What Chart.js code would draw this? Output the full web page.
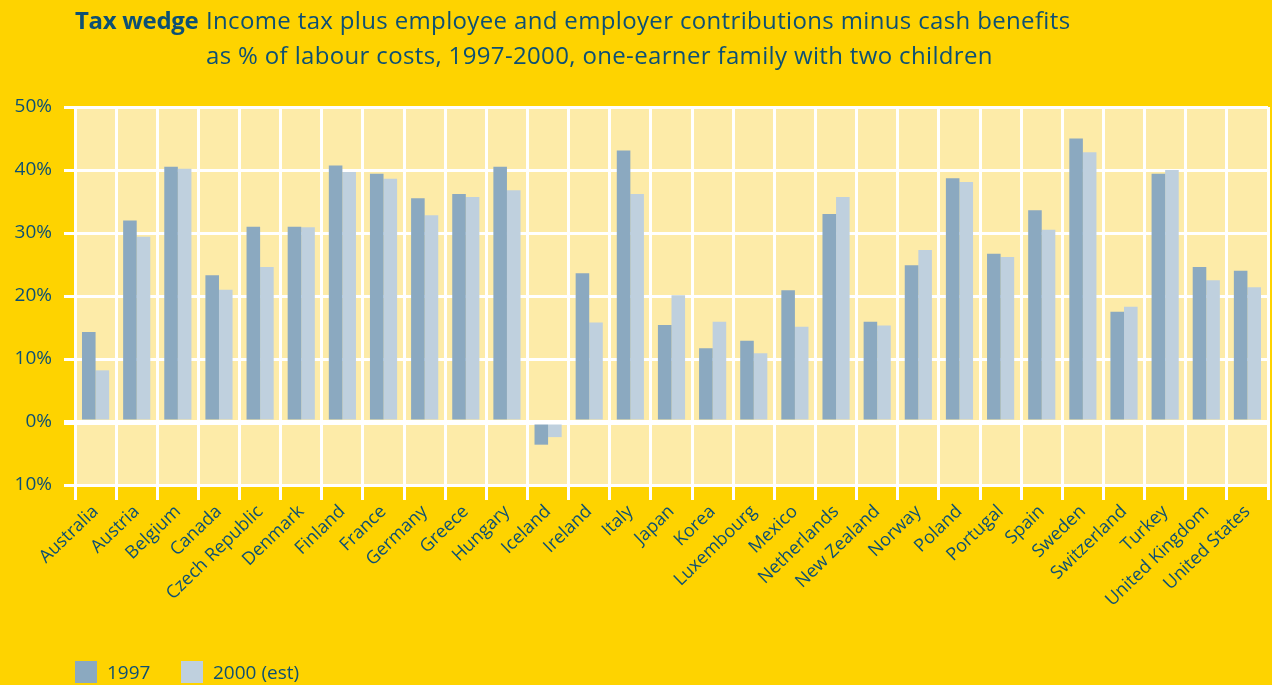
<!DOCTYPE html>
<html>
<head>
<meta charset="utf-8">
<script src="https://cdn.jsdelivr.net/npm/chart.js@4"></script>
<style>
html, body { margin: 0; padding: 0; background: #fed300; width: 1272px; height: 685px; overflow: hidden; font-family: 'Open Sans', sans-serif; color: #0d5074; }
#wrap { position: relative; width: 1272px; height: 685px; }
#chart { position: absolute; left: 0; top: 0; }
.lead { position: absolute; left: 75px; top: 2px; font-size: 24px; line-height: 35px; font-weight: 700; letter-spacing: -0.3px; }
.title { position: absolute; left: 206px; top: 2px; font-size: 24px; line-height: 35px; letter-spacing: 0.35px; }
.legend { position: absolute; left: 75px; top: 661px; height: 22px; font-size: 19px; }
.legend span { position: absolute; top: 0; white-space: nowrap; line-height: 22px; }
.legend i { position: absolute; top: 0; width: 22px; height: 22px; }
</style>
</head>
<body>
<div id="wrap">
  <canvas id="chart" width="1272" height="685"></canvas>
  <div class="lead">Tax wedge</div>
  <div class="title">Income tax plus employee and employer contributions minus cash benefits<br>as % of labour costs, 1997-2000, one-earner family with two children</div>
  <div class="legend" id="legend"></div>
</div>
<script>
const countries = ['Australia', 'Austria', 'Belgium', 'Canada', 'Czech Republic', 'Denmark', 'Finland',
    'France', 'Germany', 'Greece', 'Hungary', 'Iceland', 'Ireland', 'Italy', 'Japan', 'Korea',
    'Luxembourg', 'Mexico', 'Netherlands', 'New Zealand', 'Norway', 'Poland', 'Portugal', 'Spain',
    'Sweden', 'Switzerland', 'Turkey', 'United Kingdom', 'United States'];

const wedge1997 = [14.3, 32.0, 40.5, 23.3, 31.0, 31.0, 40.7, 39.4, 35.5, 36.2, 40.5, -3.6, 23.6, 43.1,
    15.4, 11.7, 12.9, 20.9, 33.0, 15.9, 24.9, 38.7, 26.7, 33.6, 45.0, 17.5, 39.4, 24.6, 24.0];

const wedge2000 = [8.2, 29.4, 40.2, 21.0, 24.6, 30.9, 39.7, 38.6, 32.8, 35.7, 36.8, -2.4, 15.8, 36.2,
    20.1, 15.9, 10.9, 15.1, 35.7, 15.3, 27.3, 38.1, 26.2, 30.5, 42.8, 18.3, 40.0, 22.5, 21.4];

const seriesNames = ['1997', '2000 (est)'];
const yTicks = [-10, 0, 10, 20, 30, 40, 50];

const INK = '#0d5074';
const COL_1997 = '#8ba9c0';
const COL_2000 = '#bfd0de';
const FONT = "'Open Sans', sans-serif";

// light panel behind the plot
const plotBackground = {
    id: 'plotBackground',
    beforeDraw(chart) {
        const { ctx, chartArea: a } = chart;
        ctx.save();
        ctx.fillStyle = '#fdeba8';
        ctx.fillRect(a.left, a.top, a.right - a.left, a.bottom - a.top);
        ctx.restore();
    },
};

new Chart(document.getElementById('chart'), {
    type: 'bar',
    data: {
        labels: countries,
        datasets: [
            { label: seriesNames[0], data: wedge1997, backgroundColor: COL_1997 },
            { label: seriesNames[1], data: wedge2000, backgroundColor: COL_2000 },
        ],
    },
    options: {
        responsive: false,
        animation: false,
        layout: { padding: { top: 107, right: 4, left: 0, bottom: 0 } },
        datasets: { bar: { categoryPercentage: 0.66, barPercentage: 1.0, borderWidth: 0 } },
        plugins: {
            legend: { display: false },
            tooltip: { enabled: false },
        },
        scales: {
            x: {
                grid: { color: '#ffffff', lineWidth: 3, tickLength: 15, offset: true },
                border: { display: false },
                ticks: {
                    color: INK,
                    font: { family: FONT, size: 18 },
                    minRotation: 44,
                    maxRotation: 44,
                    padding: 1,
                    autoSkip: false,
                },
                afterFit: (scale) => { scale.height = 200; },
            },
            y: {
                min: -10,
                max: 50,
                afterBuildTicks: (scale) => { scale.ticks = yTicks.map((v) => ({ value: v })); },
                grid: {
                    color: '#ffffff',
                    lineWidth: (c) => (c.tick && c.tick.value === 0 ? 5 : 3),
                    tickLength: 11,
                },
                border: { color: '#ffffff', width: 3 },
                ticks: {
                    color: INK,
                    font: { family: FONT, size: 19 },
                    padding: 12,
                    callback: (v) => `${Math.abs(v)}%`,
                },
                afterFit: (scale) => { scale.width = 75; },
            },
        },
    },
    plugins: [plotBackground],
});

// legend
const legend = document.getElementById('legend');
[[COL_1997, 0, 32], [COL_2000, 106, 138]].forEach(([col, bx, tx], i) => {
    const box = document.createElement('i');
    box.style.left = bx + 'px';
    box.style.background = col;
    const txt = document.createElement('span');
    txt.style.left = tx + 'px';
    txt.textContent = seriesNames[i];
    legend.appendChild(box);
    legend.appendChild(txt);
});
</script>
</body>
</html>
